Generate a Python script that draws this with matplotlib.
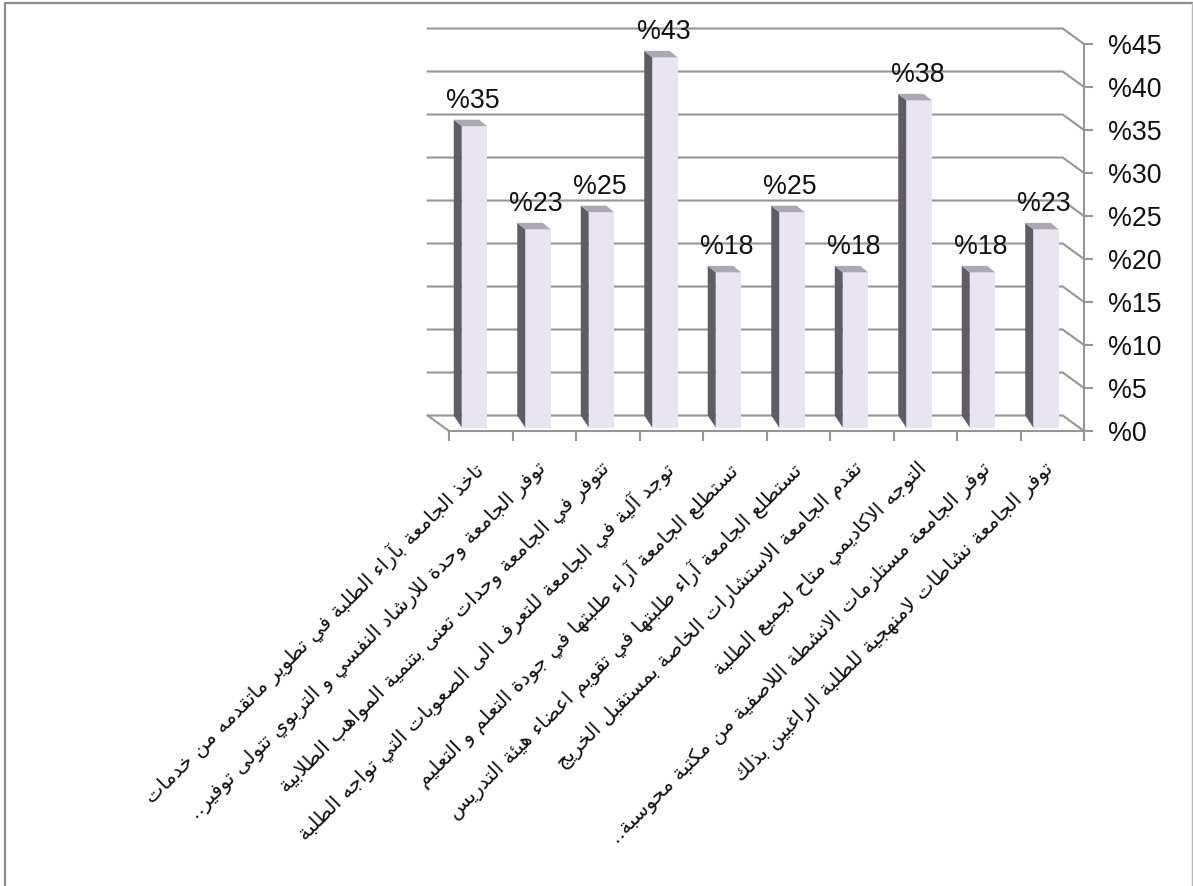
import unicodedata

import matplotlib
matplotlib.use('Agg')
import matplotlib.pyplot as plt
import numpy as np
from matplotlib.lines import Line2D
from matplotlib.patches import Polygon

categories = [
    'تاخذ الجامعة بآراء الطلبة في تطوير ماتقدمه من خدمات',
    'توفر الجامعة وحدة للارشاد النفسي و التربوي تتولى توفير..',
    'تتوفر في الجامعة وحدات تعنى بتنمية المواهب الطلابية',
    'توجد آلية في الجامعة للتعرف الى الصعوبات التي تواجه الطلبة',
    'تستطلع الجامعة آراء طلبتها في جودة التعلم و التعليم',
    'تستطلع الجامعة آراء طلبتها في تقويم اعضاء هيئة التدريس',
    'تقدم الجامعة الاستشارات الخاصة بمستقبل الخريج',
    'التوجه الاكاديمي متاح لجميع الطلبة',
    'توفر الجامعة مستلزمات الانشطة اللاصفية من مكتبة محوسبة..',
    'توفر الجامعة نشاطات لامنهجية للطلبة الراغبين بذلك',
]
values = [35, 23, 25, 43, 18, 25, 18, 38, 18, 23]
y_ticks = [0, 5, 10, 15, 20, 25, 30, 35, 40, 45]

GRID = '#969696'
FRONT = '#E8E4F0'
SIDE = '#5F5C63'
TOP = '#ABA8B1'

# letters that only connect to the previous one
RIGHT_ONLY = set('اأإآدذرزوؤةى')
LAM_ALEF = {
    'ا': 'ARABIC LIGATURE LAM WITH ALEF',
    'أ': 'ARABIC LIGATURE LAM WITH ALEF WITH HAMZA ABOVE',
    'إ': 'ARABIC LIGATURE LAM WITH ALEF WITH HAMZA BELOW',
    'آ': 'ARABIC LIGATURE LAM WITH ALEF WITH MADDA ABOVE',
}


def is_letter(ch):
    return '\u0621' <= ch <= '\u064a'


# matplotlib does no arabic shaping, so pick presentation forms and flip the string
def shape_arabic(text):
    out = []
    i = 0
    while i < len(text):
        ch = text[i]
        if not is_letter(ch):
            out.append(ch)
            i += 1
            continue
        prev = text[i - 1] if i > 0 else ' '
        joins_prev = is_letter(prev) and prev not in RIGHT_ONLY and prev != 'ء'
        if ch == 'ل' and i + 1 < len(text) and text[i + 1] in LAM_ALEF:
            form = 'FINAL' if joins_prev else 'ISOLATED'
            out.append(unicodedata.lookup(f'{LAM_ALEF[text[i + 1]]} {form} FORM'))
            i += 2
            continue
        nxt = text[i + 1] if i + 1 < len(text) else ' '
        joins_next = is_letter(nxt) and ch not in RIGHT_ONLY and ch != 'ء'
        if joins_prev and joins_next:
            form = 'MEDIAL'
        elif joins_prev:
            form = 'FINAL'
        elif joins_next:
            form = 'INITIAL'
        else:
            form = 'ISOLATED'
        out.append(unicodedata.lookup(f'{unicodedata.name(ch)} {form} FORM'))
        i += 1
    return ''.join(out)[::-1]


plt.rcParams['font.family'] = ['Liberation Sans', 'DejaVu Sans']

W, H = 1193, 886
fig = plt.figure(figsize=(W / 100, H / 100), dpi=100)

# picture frame, open at the bottom
fig.add_artist(Line2D([5.5 / W, 5.5 / W, 1192 / W], [0, 1 - 2.5 / H, 1 - 2.5 / H],
                      color='#8C8C8C', lw=1.6, solid_joinstyle='miter'))
fig.add_artist(Line2D([1192 / W, 1192 / W], [0, 1 - 2.5 / H], color='#B8B8B8', lw=1))

ax = fig.add_axes([449 / W, 1 - 431 / H, 635 / W, 387 / H])
ax.set_facecolor('none')
n = len(values)
ax.set_xlim(0, n)
ax.set_ylim(0, 45)

# depth of the 3d wall and of the bars, in data units
wall_x, wall_y = -0.335, 1.8
bar_x, bar_y = -0.125, 0.75
base_y = 0.4
lift = 0.45
left = 0.2
width = 0.4

# back wall gridlines and the floor edges
for v in y_ticks:
    ax.plot([wall_x, n + wall_x, n], [v + wall_y, v + wall_y, v], color=GRID, lw=1.5,
            clip_on=False, zorder=1, solid_joinstyle='miter')
ax.plot([wall_x, 0], [wall_y, 0], color=GRID, lw=1.5, clip_on=False, zorder=1)

x = np.arange(n)
ax.bar(x + left, np.array(values) + lift - base_y, width=width, bottom=base_y, align='edge',
       color=FRONT, zorder=3)
for i, v in enumerate(values):
    x0 = i + left
    top = v + lift
    ax.add_patch(Polygon([(x0, base_y), (x0, top), (x0 + bar_x, top + bar_y), (x0 + bar_x, wall_y)],
                         facecolor=SIDE, edgecolor='none', zorder=3, clip_on=False))
    ax.add_patch(Polygon([(x0, top), (x0 + width, top), (x0 + width + bar_x, top + bar_y), (x0 + bar_x, top + bar_y)],
                         facecolor=TOP, edgecolor='none', zorder=3, clip_on=False))
    ax.annotate(f'%{v}', xy=(i + 0.375, top + bar_y), xytext=(0, 8.5), textcoords='offset points',
                ha='center', va='baseline', fontsize=19.3, color='#111111', zorder=5,
                annotation_clip=False)

for name in ['top', 'left']:
    ax.spines[name].set_visible(False)
for name in ['right', 'bottom']:
    ax.spines[name].set_color(GRID)
    ax.spines[name].set_linewidth(1.5)
    ax.spines[name].set_zorder(2)

ax.yaxis.tick_right()
ax.set_yticks(y_ticks, [f'%{v}' for v in y_ticks], fontsize=19.3, color='#111111')
ax.tick_params(axis='y', length=6.5, width=1.5, color=GRID, pad=11)

ax.set_xticks(np.arange(n + 1), minor=True)
ax.tick_params(axis='x', which='minor', length=7, width=1.5, color=GRID)
ax.set_xticks(x + 0.37, [shape_arabic(c) for c in categories], rotation=45, ha='right', va='top',
              rotation_mode='anchor', family='DejaVu Sans', fontsize=14.7, color='#111111')
ax.tick_params(axis='x', which='major', length=0, pad=20)

fig.savefig('out.png', dpi=100)
